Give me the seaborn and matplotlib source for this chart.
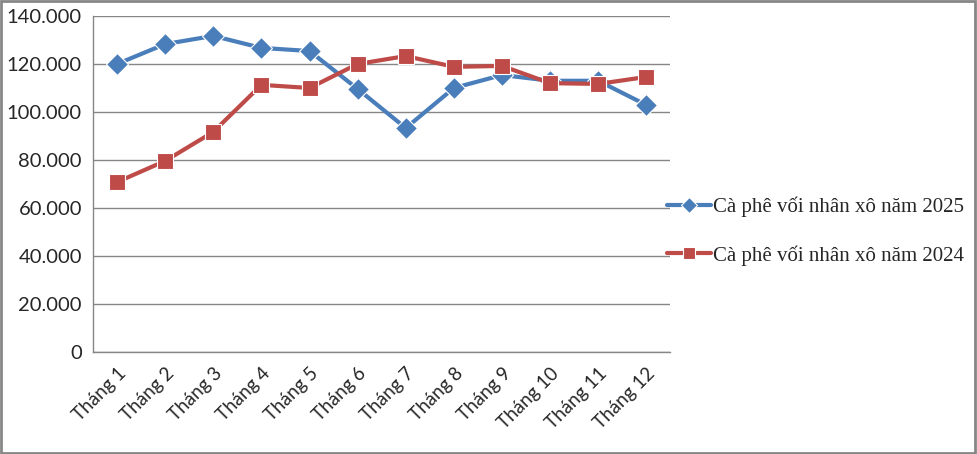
import pandas as pd
import matplotlib.pyplot as plt
import seaborn as sns
from matplotlib.ticker import FuncFormatter
from matplotlib.patches import Rectangle

months = ["Tháng 1", "Tháng 2", "Tháng 3", "Tháng 4", "Tháng 5", "Tháng 6",
          "Tháng 7", "Tháng 8", "Tháng 9", "Tháng 10", "Tháng 11", "Tháng 12"]
gia_2025 = [120000, 128300, 131700, 126700, 125400, 109600,
            93300, 110000, 115400, 113000, 113000, 102900]
gia_2024 = [70800, 79600, 91700, 111300, 110000, 120000,
            123300, 118800, 119200, 112000, 111700, 114600]
ten_2025 = "Cà phê vối nhân xô năm 2025"
ten_2024 = "Cà phê vối nhân xô năm 2024"

df = pd.DataFrame({
    "thang": list(range(12)) * 2,
    "gia": gia_2025 + gia_2024,
    "nam": [ten_2025] * 12 + [ten_2024] * 12,
})

sns.set_style("white")
fig = plt.figure(figsize=(9.77, 4.54), dpi=100)
ax = fig.add_axes([0.0952, 0.2247, 0.591, 0.7401])

sns.lineplot(data=df, x="thang", y="gia", hue="nam", style="nam",
             palette={ten_2025: "#4A7EBB", ten_2024: "#BE4B48"},
             markers={ten_2025: "D", ten_2024: "s"}, dashes=False,
             linewidth=3, markersize=11, markeredgewidth=0.8, ax=ax)

ax.set_xlim(-0.5, 11.5)
ax.set_ylim(0, 140000)
ax.set_yticks(range(0, 140001, 20000))
ax.yaxis.set_major_formatter(FuncFormatter(lambda v, p: f"{int(v):,}".replace(",", ".")))
ax.set_xticks(range(12))
ax.set_xticklabels(months, rotation=45, ha="right", rotation_mode="anchor",
                   family="Lato", fontsize=13.5)
ax.set_xticks([i - 0.5 for i in range(13)], minor=True)
ax.tick_params(axis="x", which="major", length=0, pad=9)
ax.tick_params(axis="x", which="minor", length=5, color="#868686", width=1, direction="out")
ax.tick_params(axis="y", length=5, color="#868686", width=1, direction="out",
               labelsize=14.5, pad=3)
for lab in ax.get_yticklabels():
    lab.set_family("Lato")
ax.yaxis.grid(True, color="#868686", linewidth=1)
ax.set_axisbelow(True)
for s in ["top", "right"]:
    ax.spines[s].set_visible(False)
for s in ["left", "bottom"]:
    ax.spines[s].set_color("#868686")
    ax.spines[s].set_linewidth(1)
ax.set_xlabel("")
ax.set_ylabel("")

leg = ax.legend(title=None, loc="center left", bbox_to_anchor=(0.664, 0.491),
                bbox_transform=fig.transFigure, frameon=False,
                prop={"family": "Liberation Serif", "size": 15},
                handlelength=2.1, handletextpad=0.1, labelspacing=1.35)
for h in leg.legend_handles:
    h.set_markersize(8)

fig.add_artist(Rectangle((0.001, 0.002), 0.997, 0.995, transform=fig.transFigure,
                         fill=False, edgecolor="#868686", linewidth=2))

fig.savefig("out.png", dpi=100)
